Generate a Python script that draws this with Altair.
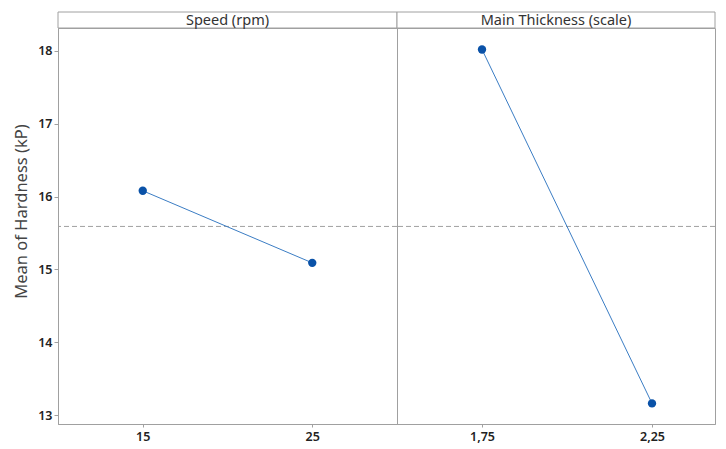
import altair as alt
import pandas as pd

speed_levels = ["15", "25"]
speed_means = [16.08, 15.09]
thick_levels = ["1,75", "2,25"]
thick_means = [18.02, 13.16]
grand_mean = 15.59
panel_titles = ["Speed (rpm)", "Main Thickness (scale)"]
y_domain = [12.877, 18.315]
y_title = "Mean of Hardness (kP)"

FONT = "Noto Sans"
GRAY = "#a0a0a0"
LINE_C = "#3b7dc4"
PT_C = "#0a52a8"
PLOT_H = 396
HEAD_H = 16
W1 = 339
W2 = 318

df1 = pd.DataFrame({"level": speed_levels, "mean": speed_means})
df2 = pd.DataFrame({"level": thick_levels, "mean": thick_means})
ref = pd.DataFrame({"m": [grand_mean]})


def panel(df, levels, w, show_y, xscale, title):
    yaxis = alt.Axis(
        values=[13, 14, 15, 16, 17, 18], title=y_title, grid=False,
        labelFont=FONT, labelFontSize=12.5, labelFontWeight=600, labelColor="#222222",
        titleFont=FONT, titleFontSize=16.5, titleFontWeight="normal", titleColor="#444444",
        titlePadding=8, titleY=PLOT_H / 2 - 15, tickSize=4, tickColor=GRAY,
        domainColor=GRAY, labelPadding=2,
    ) if show_y else None
    yscale = alt.Scale(domain=y_domain, nice=False, zero=False)
    y = alt.Y("mean:Q", scale=yscale, axis=yaxis)
    x = alt.X("level:O", sort=levels, scale=xscale,
              axis=alt.Axis(title=None, labelAngle=0, grid=False, labelFont=FONT,
                            labelFontSize=12.5, labelFontWeight=600, labelColor="#222222",
                            tickSize=3, tickColor=GRAY, domainColor=GRAY, labelPadding=3))
    base = alt.Chart(df)
    line = base.mark_line(color=LINE_C, strokeWidth=1).encode(x=x, y=y)
    pts = base.mark_circle(color=PT_C, size=70, opacity=1).encode(x=x, y=y)
    rule = alt.Chart(ref).mark_rule(color=GRAY, strokeDash=[5, 3], strokeWidth=1).encode(
        y=alt.Y("m:Q", scale=yscale, axis=yaxis)
    )
    hdf = pd.DataFrame({"t": [title]})
    hbox = alt.Chart(hdf).mark_rect(fill="white", stroke=GRAY, strokeWidth=1).encode(
        x=alt.value(0), x2=alt.value(w), y=alt.value(-HEAD_H), y2=alt.value(0)
    )
    htext = alt.Chart(hdf).mark_text(
        font=FONT, fontSize=14.5, color="#333333", baseline="middle", dy=1
    ).encode(text="t:N", x=alt.value(w / 2), y=alt.value(-HEAD_H / 2))
    return alt.layer(hbox, htext, rule, line, pts).properties(width=w, height=PLOT_H)


p1 = panel(df1, speed_levels, W1, True, alt.Scale(type="point", padding=0.5), panel_titles[0])
p2 = panel(df2, thick_levels, W2, False,
           alt.Scale(type="point", padding=(W2 - 170) / 340, align=85 / (W2 - 170)),
           panel_titles[1])

chart = alt.hconcat(p1, p2, spacing=0, bounds="flush").properties(
    padding={"left": 5, "top": 3, "right": 0, "bottom": 0}
).configure_view(stroke=GRAY, strokeWidth=1).configure_concat(spacing=0)

chart.save("out.html", embed_options={"renderer": "svg", "actions": False})
